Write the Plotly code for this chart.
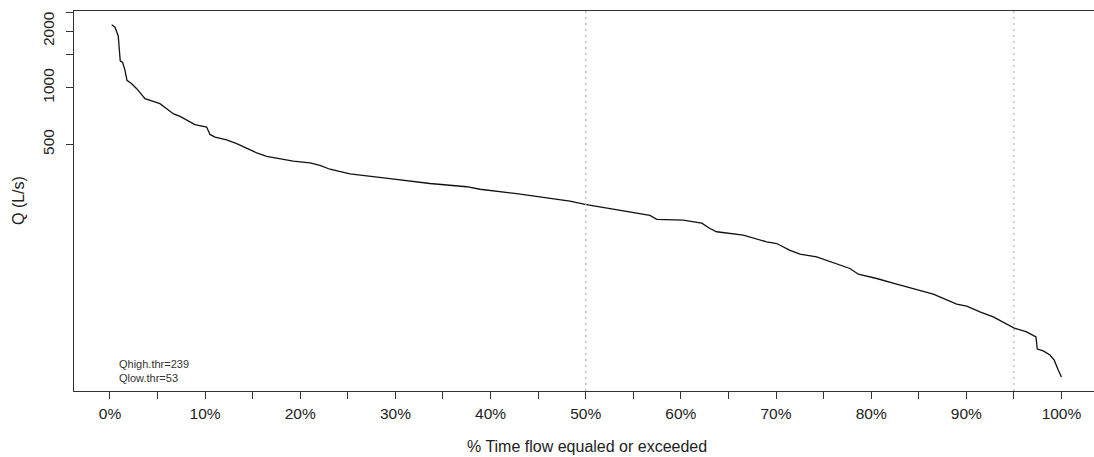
import plotly.graph_objects as go

# Flow duration curve: percent of time a flow is equaled or exceeded vs discharge
exceedance_pct = [
    0.18, 0.53, 0.87, 1.08, 1.33, 1.58, 1.79, 2.28, 2.81, 3.33, 3.68, 4.55, 5.25,
    5.96, 6.65, 7.36, 8.06, 8.93, 10.16, 10.51, 11.04, 12.26, 13.32, 14.37, 15.42,
    16.47, 17.87, 19.26, 21.02, 22.07, 23.12, 25.22, 29.43, 33.63, 37.49, 38.89,
    42.74, 45.54, 48.34, 49.92, 52.55, 56.75, 57.46, 60.25, 62.19, 63.06, 63.76,
    66.56, 69.02, 70.07, 71.47, 72.52, 74.27, 76.37, 77.77, 78.65, 80.58, 82.68,
    84.42, 86.53, 87.58, 88.99, 90.04, 91.43, 92.83, 93.88, 95.04, 96.34, 97.32,
    97.46, 98.09, 98.79, 99.24, 99.66, 100.0,
]
discharge_ls = [
    2163, 2101, 1886, 1389, 1363, 1236, 1094, 1050, 988, 916, 874, 846, 822,
    773, 727, 704, 670, 636, 617, 564, 546, 528, 504, 474, 450,
    431, 418, 407, 398, 386, 368, 348, 328, 309, 297, 288,
    273, 260, 249, 239.5, 227, 209, 199, 197, 190, 178, 171,
    164, 151, 148, 136, 130, 125.6, 115.8, 109, 101.6, 96.4, 89.9,
    85.3, 79.5, 75.5, 70.4, 68.7, 64.0, 60.2, 56.6, 52.5, 50.1, 47.1,
    40.6, 39.7, 37.7, 35.4, 31.4, 28.8,
]

# Reference exceedance levels and threshold labels
ref_pct = [50, 95]
q_high_thr = 239
q_low_thr = 53

x_tick_vals = list(range(0, 101, 5))
x_tick_text = [f"{v}%" if v % 10 == 0 else "" for v in x_tick_vals]
y_tick_vals = [500, 1000, 1500, 2000, 2500]
y_tick_text = ["500", "1000", "", "2000", ""]

FONT = "Liberation Sans, Arial, sans-serif"
INK = "#222222"

fig = go.Figure()
fig.add_trace(go.Scatter(
    x=exceedance_pct, y=discharge_ls, mode="lines",
    line=dict(color="#111111", width=1.3),
    showlegend=False, hoverinfo="x+y",
))

for p in ref_pct:
    fig.add_shape(type="line", xref="x", yref="paper", x0=p, x1=p, y0=0, y1=1,
                  line=dict(color="#b3b3b3", width=1.2, dash="2px,4px"))

fig.update_layout(
    width=1094, height=457,
    margin=dict(l=74, r=0, t=11, b=66),
    paper_bgcolor="white", plot_bgcolor="white",
    font=dict(family=FONT, color=INK),
    xaxis=dict(
        range=[-3.78, 103.42], tickmode="array",
        tickvals=x_tick_vals, ticktext=x_tick_text,
        ticks="outside", ticklen=7, tickwidth=1, tickcolor="#333333",
        showline=True, linecolor="#333333", linewidth=1.2, mirror=True,
        showgrid=False, zeroline=False, tickfont=dict(size=15.5, color=INK),
        ticklabelstandoff=1,
    ),
    yaxis=dict(
        type="log", range=[1.385, 3.4085], tickmode="array",
        tickvals=y_tick_vals, ticktext=y_tick_text, tickangle=-90,
        ticks="outside", ticklen=7, tickwidth=1, tickcolor="#333333",
        showline=True, linecolor="#333333", linewidth=1.2, mirror=False,
        showgrid=False, zeroline=False, tickfont=dict(size=15.5, color=INK),
        ticklabelstandoff=6,
    ),
    annotations=[
        dict(text="Q (L/s)", xref="paper", yref="paper", x=0, y=0.5,
             xshift=-56, xanchor="center", yanchor="middle", textangle=-90,
             showarrow=False, font=dict(size=16, color=INK)),
        dict(text="% Time flow equaled or exceeded", xref="paper", yref="paper",
             x=0.5025, y=-0.147, xanchor="center", yanchor="middle",
             showarrow=False, font=dict(size=16, color=INK)),
        dict(text=f"Qhigh.thr={q_high_thr}", xref="paper", yref="paper",
             x=0.0419, y=0.0703, xanchor="left", yanchor="middle",
             showarrow=False, font=dict(size=11, color="#333333")),
        dict(text=f"Qlow.thr={q_low_thr}", xref="paper", yref="paper",
             x=0.0419, y=0.035, xanchor="left", yanchor="middle",
             showarrow=False, font=dict(size=11, color="#333333")),
    ],
)

fig.write_html("out.html")
